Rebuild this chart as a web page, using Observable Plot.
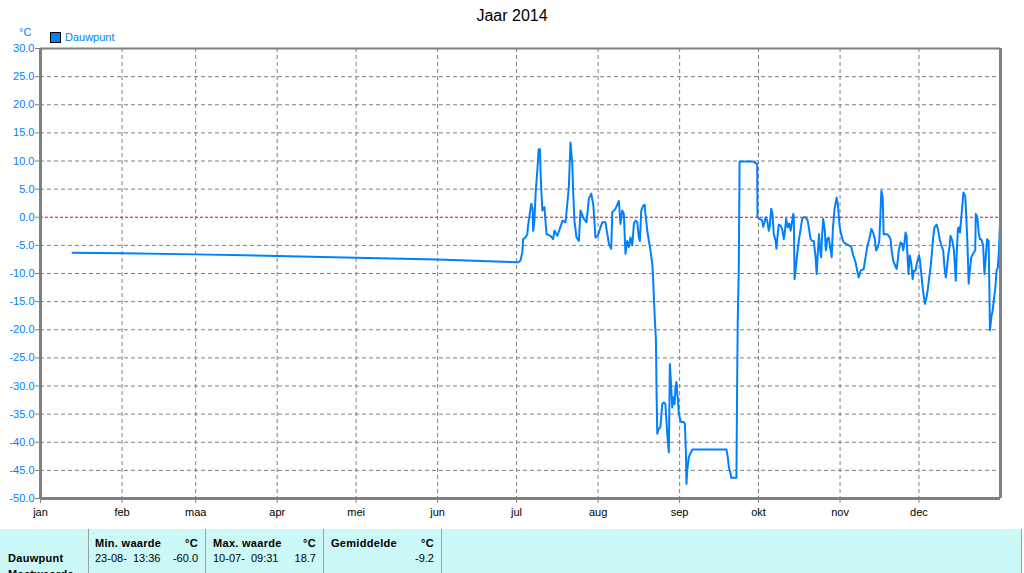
<!DOCTYPE html>
<html>
<head>
<meta charset="utf-8">
<script src="https://cdn.jsdelivr.net/npm/d3@7"></script>
<script src="https://cdn.jsdelivr.net/npm/@observablehq/plot@0.6"></script>
<style>
  html, body { margin: 0; padding: 0; background: #ffffff; overflow: hidden; }
  #page { position: relative; width: 1024px; height: 573px; font-family: "Liberation Sans", Arial, sans-serif; overflow: hidden; }
  #title { position: absolute; left: 0; top: 7px; width: 1024px; text-align: center; font-size: 16px; color: #000; }
  #unit { position: absolute; left: 19px; top: 26px; font-size: 11px; color: #0080ff; }
  #legend { position: absolute; left: 50px; top: 31px; font-size: 11px; color: #0080ff; display: flex; align-items: center; }
  #legend .sw { width: 9px; height: 9px; background: #0080ff; border: 1px solid #000; margin-right: 4px; }
  #chart { position: absolute; left: 0; top: 0; }
  #table { position: absolute; left: 0; top: 529px; width: 1022px; height: 60px; background: #ccf8f8; font-size: 11px; color: #000; }
  #table .sep { position: absolute; top: 0; width: 1px; height: 60px; background: #a0a0a0; }
  #table .t { position: absolute; white-space: pre; line-height: 13px; }
  #table .b { font-weight: bold; letter-spacing: 0.3px; }
  #table .r { text-align: right; }
</style>
</head>
<body>
<div id="page">
  <div id="chart"></div>
  <div id="title"></div>
  <div id="unit"></div>
  <div id="legend"><div class="sw"></div><span id="legendLabel"></span></div>
  <div id="table"></div>
</div>
<script>
// ---- Data ----
const titleText = "Jaar 2014";
const unitText = "°C";
const seriesName = "Dauwpunt";
const monthLabels = ["jan","feb","maa","apr","mei","jun","jul","aug","sep","okt","nov","dec"];
const yTicks = [-50,-45,-40,-35,-30,-25,-20,-15,-10,-5,0,5,10,15,20,25,30];

// day of year (days after 1 Jan 2014)
const dayOfYear = [
  12.2, 31, 59, 90, 120, 151,
  181.7, 182.5, 183.2, 183.5, 184.4, 185.1, 185.3, 186.0, 186.6, 187.1,
  187.3, 187.8, 188.3, 188.9, 189.4, 189.9, 190.1, 190.4, 190.8, 191.6,
  192.4, 193.9, 194.9, 195.4, 196.5, 197.4, 198.5, 199.6, 200.3, 200.9,
  201.5, 202.2, 202.5, 203.0, 203.8, 204.7, 205.3, 206.6, 207.6, 208.5,
  209.4, 210.2, 211.0, 211.9, 212.9, 213.6, 214.8, 216.1, 217.0, 217.4,
  218.6, 219.9, 220.5, 221.2, 221.8, 222.4, 223.1, 223.7, 224.3, 225.0,
  225.6, 226.2, 226.9, 227.5, 227.9, 228.4, 229.2, 229.7, 230.0, 230.7,
  231.3, 231.9, 232.6, 232.9, 233.2, 233.6, 234.0, 234.2, 234.5, 235.1,
  235.7, 236.0, 236.4, 237.0, 237.6, 238.3, 238.9, 239.3, 239.8, 240.2,
  240.6, 241.1, 241.4, 241.8, 242.1, 242.3, 242.7, 243.1, 243.6, 244.6,
  245.0, 245.4, 245.6, 245.9, 246.5, 247.1, 247.8, 260.8, 261.3, 261.7,
  262.4, 262.6, 264.6, 264.9, 265.1, 265.5, 265.8, 271.0, 271.9, 272.5,
  272.6, 273.5, 274.4, 274.8, 275.3, 275.7, 276.3, 276.9, 277.3, 277.8,
  278.3, 278.8, 279.5, 279.8, 280.4, 280.7, 281.4, 282.0, 282.6, 283.0,
  283.5, 284.1, 284.7, 285.2, 285.7, 286.2, 286.4, 286.7, 287.2, 287.7,
  288.3, 289.0, 289.6, 290.2, 290.9, 291.7, 292.3, 292.8, 293.4, 294.0,
  294.7, 295.1, 295.6, 296.0, 296.3, 296.8, 297.2, 297.6, 298.2, 298.6,
  299.1, 299.7, 300.4, 300.8, 301.3, 301.9, 302.7, 303.2, 303.8, 304.4,
  305.2, 306.1, 307.3, 308.2, 309.0, 309.9, 310.5, 311.1, 311.8, 313.0,
  313.7, 314.3, 315.1, 315.9, 316.6, 317.2, 317.7, 318.4, 318.9, 319.3,
  319.7, 320.2, 320.4, 320.6, 321.9, 322.5, 323.2, 323.6, 324.2, 324.7,
  325.5, 326.0, 326.3, 327.0, 327.6, 328.0, 328.5, 328.9, 329.3, 329.5,
  330.0, 330.5, 331.1, 331.6, 332.1, 332.7, 333.3, 334.0, 334.3, 334.9,
  335.4, 335.9, 336.3, 336.9, 337.4, 337.9, 338.4, 339.0, 339.4, 339.9,
  340.7, 341.2, 341.9, 342.5, 343.2, 343.7, 344.2, 344.8, 345.2, 345.6,
  346.0, 346.7, 347.3, 348.0, 348.3, 348.8, 349.2, 349.6, 350.1, 350.9,
  351.6, 352.4, 352.9, 353.2, 353.9, 354.9, 355.4, 355.6, 356.2, 356.7,
  357.2, 357.7, 358.4, 358.9, 359.4, 359.9, 360.5, 361.0, 361.5, 362.0,
  362.5, 363.0, 363.5, 364.0, 364.4, 364.8
];
const dewpoint = [
  -6.3, -6.4, -6.6, -6.9, -7.2, -7.5,
  -8.0, -7.7, -6.2, -3.9, -3.6, -3.0, -1.8, 0.6, 2.4, 1.5,
  -2.4, -0.6, 4.7, 8.3, 12.1, 12.1, 8.3, 5.0, 1.2, 1.8,
  -3.0, -3.3, -3.9, -2.4, -3.3, -2.1, -0.6, -0.9, 2.4, 5.6,
  13.3, 9.5, 4.7, -0.6, -3.6, -4.2, 1.2, -0.3, -0.9, 3.3,
  4.2, 2.1, -3.6, -3.3, -1.8, -0.9, -0.9, -4.7, -5.6, 0.9,
  1.5, 2.9, -1.2, 1.2, 0.6, -6.5, -4.2, -5.3, -3.6, -5.0,
  -1.2, -0.6, -0.9, -3.6, -4.2, 1.2, 2.1, 2.2, 0.6, -2.4,
  -4.2, -5.9, -8.3, -10.7, -14.2, -18.4, -21.9, -30.2, -38.5, -37.6,
  -37.3, -35.5, -33.2, -32.9, -33.2, -38.5, -41.8, -26.1, -30.2, -33.8,
  -32.0, -33.2, -30.2, -29.3, -31.4, -32.0, -34.9, -35.8, -36.4, -36.4,
  -36.7, -42.0, -47.4, -45.0, -42.6, -42.0, -41.3, -41.3, -42.6, -44.4,
  -45.6, -46.3, -46.3, -27.8, -18.4, -8.9, 9.9, 9.9, 9.6, 9.5,
  0.0, -0.3, -0.6, -1.7, -0.9, 0.0, -0.6, -2.4, -1.5, 1.5,
  0.6, -3.0, -4.2, -5.6, -2.4, -1.3, -1.5, -2.1, -3.9, -2.7,
  -0.3, -1.8, -1.1, -2.4, -0.9, 0.6, 0.3, -11.0, -8.9, -6.5,
  -4.2, -2.1, -0.3, 0.0, 0.0, -0.6, -2.4, -3.9, -4.2, -4.2,
  -7.1, -10.1, -5.9, -3.0, -5.3, -7.1, -3.0, -0.3, -2.4, -5.9,
  -3.9, -3.6, -5.9, -7.1, -1.8, 1.5, 3.5, 2.1, -1.5, -3.0,
  -4.3, -4.7, -5.0, -5.2, -6.8, -8.0, -9.5, -10.7, -9.5, -9.2,
  -7.1, -5.3, -3.9, -2.1, -2.7, -3.9, -5.9, -5.3, -4.2, 0.0,
  4.7, 3.5, 0.0, -3.0, -3.0, -3.3, -3.9, -5.9, -7.7, -8.3,
  -9.2, -7.4, -5.9, -4.5, -4.7, -5.9, -4.5, -2.7, -3.3, -5.6,
  -10.1, -6.8, -8.3, -11.0, -9.5, -9.5, -8.0, -6.8, -7.4, -10.1,
  -12.5, -14.2, -15.4, -14.2, -12.7, -10.7, -8.9, -5.9, -3.6, -1.8,
  -1.3, -2.1, -3.9, -5.0, -5.9, -8.9, -10.7, -8.3, -6.5, -5.3,
  -3.3, -4.2, -5.9, -11.3, -7.1, -2.1, -1.8, -2.7, 0.0, 4.4,
  3.8, -4.2, -11.8, -10.1, -7.1, -6.2, -5.9, 0.6, 0.0, -2.7,
  -3.9, -3.9, -5.0, -10.1, -7.1, -3.9, -4.2, -20.1, -17.8, -16.6,
  -14.5, -12.7, -9.5, -8.9, -5.9, -1.2
];

// Summary table values
const tableRowLabels = ["Dauwpunt", "Meetwaarde"];
const tableHeaders = ["Min. waarde", "Max. waarde", "Gemiddelde"];
const tableTimes = ["23-08-  13:36", "10-07-  09:31", ""];
const tableValues = ["-60.0", "18.7", "-9.2"];

// ---- Build ----
const DAY = 864e5;
const t0 = Date.UTC(2014, 0, 1);
const data = dayOfYear.map((d, i) => ({date: new Date(t0 + d * DAY), value: dewpoint[i]}));
const monthStarts = d3.range(12).map(m => new Date(Date.UTC(2014, m, 1)));
const xDomain = [new Date(t0), new Date(Date.UTC(2015, 0, 1))];
const gridMonths = monthStarts.slice(1);
const gridVals = yTicks.filter(v => v !== -50 && v !== 30 && v !== 0);

const lineColor = "#0080ff";
const gray = "#808080";

const chart = Plot.plot({
  width: 1024,
  height: 526,
  marginLeft: 40,
  marginRight: 24,
  marginTop: 48,
  marginBottom: 28,
  style: {fontFamily: "'Liberation Sans', Arial, sans-serif", fontSize: "11px", background: "transparent", overflow: "visible"},
  x: {type: "utc", domain: xDomain},
  y: {domain: [-50, 30]},
  marks: [
    Plot.gridX(gridMonths, {stroke: gray, strokeOpacity: 1, strokeDasharray: "4,3"}),
    Plot.gridY(gridVals, {stroke: gray, strokeOpacity: 1, strokeDasharray: "4,3"}),
    Plot.ruleY([0], {stroke: "#ff0000", strokeWidth: 1.2, strokeDasharray: "3,2"}),
    Plot.line(data, {x: "date", y: "value", stroke: lineColor, strokeWidth: 2}),
    Plot.ruleY([-50], {stroke: gray, strokeWidth: 3}),
    Plot.ruleY([30], {stroke: gray, strokeWidth: 2}),
    Plot.ruleX([xDomain[0], xDomain[1]], {stroke: gray, strokeWidth: 3}),
    Plot.axisY(yTicks, {tickSize: 5, tickFormat: () => "", stroke: gray, label: null}),
    Plot.axisY(yTicks, {tickSize: 0, tickPadding: 6, tickFormat: d => d.toFixed(1), fill: lineColor, label: null, fontSize: 11}),
    Plot.axisX(monthStarts, {tickSize: 5, tickPadding: 4, stroke: gray, tickFormat: () => "", label: null}),
    Plot.axisX(monthStarts, {tickSize: 0, tickPadding: 10, tickFormat: (d, i) => monthLabels[d.getUTCMonth()], fill: "#000", label: null, fontSize: 11})
  ]
});
document.getElementById("chart").appendChild(chart);

document.getElementById("title").textContent = titleText;
document.getElementById("unit").textContent = unitText;
document.getElementById("legendLabel").textContent = seriesName;

// Table
const table = document.getElementById("table");
function addText(txt, left, top, cls, rightEdge) {
  const el = document.createElement("div");
  el.className = "t " + cls;
  el.textContent = txt;
  if (rightEdge !== undefined) {
    el.style.right = (1022 - rightEdge) + "px";
  } else {
    el.style.left = left + "px";
  }
  el.style.top = top + "px";
  table.appendChild(el);
}
const seps = [88, 205, 323, 441, 1021];
seps.forEach(x => {
  const s = document.createElement("div");
  s.className = "sep";
  s.style.left = x + "px";
  table.appendChild(s);
});
const colLeft = [95, 213, 331];
const colRight = [198, 316, 434];
addText(tableRowLabels[0], 8, 23, "b");
addText(tableRowLabels[1], 8, 39, "b");
tableHeaders.forEach((h, i) => {
  addText(h, colLeft[i], 8, "b");
  addText(unitText, 0, 8, "b r", colRight[i]);
  if (tableTimes[i]) addText(tableTimes[i], colLeft[i], 23, "");
  addText(tableValues[i], 0, 23, "r", colRight[i]);
});
</script>
</body>
</html>
